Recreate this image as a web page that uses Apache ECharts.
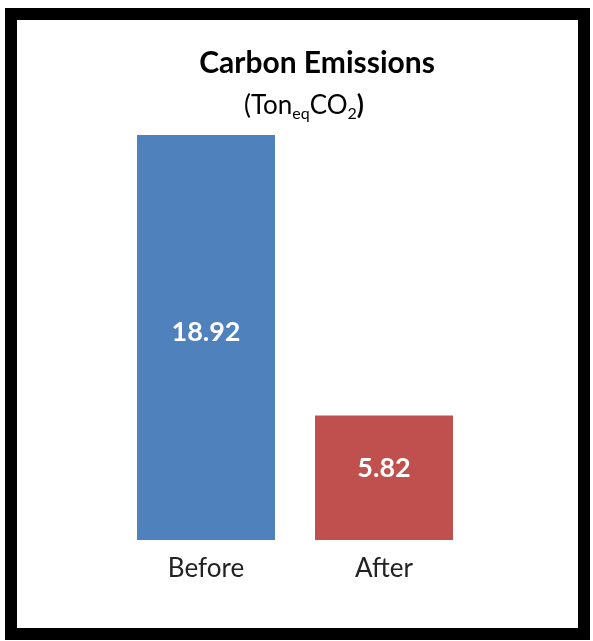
<!DOCTYPE html>
<html><head><meta charset="utf-8">
<script src="https://cdn.jsdelivr.net/npm/echarts@6/dist/echarts.min.js"></script>
<style>html,body{margin:0;padding:0;background:#fff}#c{width:593px;height:641px}</style>
</head><body><div id="c"></div>
<script>
const categories = ['Before', 'After'];
const values = [18.92, 5.82];
const colors = ['#4F81BD', '#C0504D'];

const chart = echarts.init(document.getElementById('c'));
const font = 'Lato, "Open Sans", sans-serif';
const labelOffsets = [[0, -5], [0, -9]];
chart.setOption({
  animation: false,
  backgroundColor: '#fff',
  title: [{
    text: 'Carbon Emissions',
    left: 312, top: 43, textAlign: 'center',
    textStyle: {fontFamily: font, fontWeight: 'bold', fontSize: 30, color: '#000'}
  }, {
    text: '{n|(Ton}{s|eq}{n|CO}{s|2}{b|)}',
    left: 299, top: 85, textAlign: 'center',
    textStyle: {
      rich: {
        n: {fontFamily: font, fontSize: 26, fontWeight: 'normal', color: '#000'},
        b: {fontFamily: font, fontSize: 26, fontWeight: 'bold', color: '#000'},
        s: {fontFamily: font, fontSize: 16, fontWeight: 'normal', color: '#000', verticalAlign: 'bottom', padding: [16, 0, 0, 0]}
      }
    }
  }],
  graphic: [{
    type: 'rect', shape: {x: 11, y: 14, width: 573, height: 620},
    style: {fill: 'none', stroke: '#000', lineWidth: 12}, z: 100
  }],
  grid: {left: 117, right: 120, top: 135, bottom: 101},
  xAxis: {
    type: 'category', data: categories,
    axisLine: {show: false}, axisTick: {show: false},
    axisLabel: {fontFamily: font, fontSize: 26, color: '#222', margin: 16}
  },
  yAxis: {
    type: 'value', min: 0, max: 18.92,
    show: false, splitLine: {show: false}
  },
  series: [{
    type: 'bar', barWidth: 138,
    data: values.map((v, i) => ({value: v, itemStyle: {color: colors[i]}, label: {offset: labelOffsets[i]}})),
    label: {
      show: true, position: 'inside',
      fontFamily: font, fontSize: 27, fontWeight: 'bold', color: '#fff',
      formatter: p => p.value.toFixed(2)
    }
  }]
});
</script></body></html>
